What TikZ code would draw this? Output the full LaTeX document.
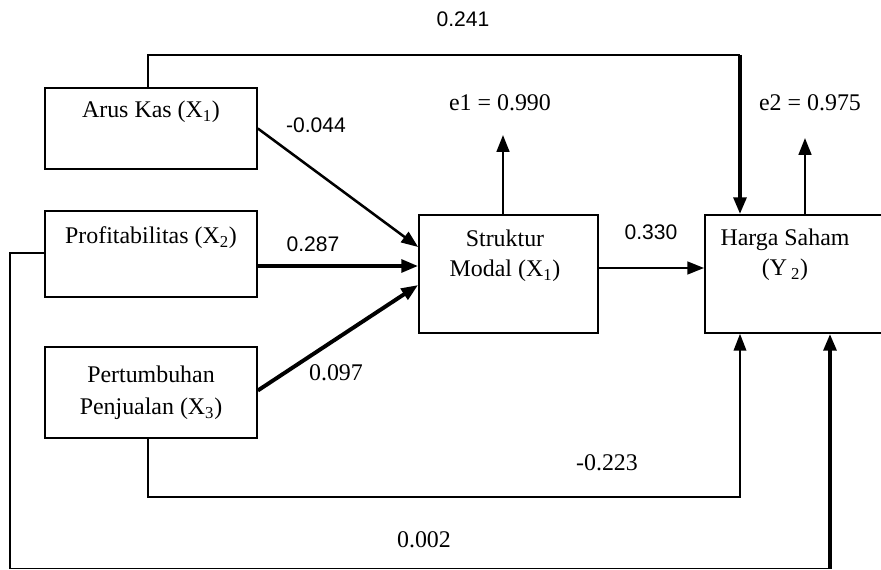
\documentclass[tikz,border=0pt]{standalone}
\usepackage{fontspec}
\setmainfont{Liberation Serif}
\newfontfamily\numfont{Liberation Sans}
\usetikzlibrary{%
    arrows.meta,
    calc,
    positioning
}

\tikzset{
    varbox/.style={draw, line width=1.2pt, rectangle, inner sep=0pt},
    varname/.style={font=\fontsize{17}{20}\selectfont, align=center, inner sep=0pt},
    coef/.style={font=\numfont\fontsize{15}{17}\selectfont, inner sep=0pt},
    coefserif/.style={font=\fontsize{17}{19}\selectfont, inner sep=0pt},
    thinline/.style={line width=1.2pt},
    midarrow/.style={line width=1.8pt, -{Triangle[length=12pt,width=9pt]}},
    thickarrow/.style={line width=2.8pt, -{Triangle[length=12pt,width=9pt]}}
}

\begin{document}
\begin{tikzpicture}[x=0.025cm, y=-0.025cm]
    \useasboundingbox (0,0) rectangle (881,570);

    % boxes
    \node[varbox, minimum width=212*0.025cm, minimum height=81*0.025cm]  (arus)     at (151,128.5) {};
    \node[varbox, minimum width=212*0.025cm, minimum height=86*0.025cm]  (profit)   at (151,254)   {};
    \node[varbox, minimum width=212*0.025cm, minimum height=91*0.025cm]  (tumbuh)   at (151,392.5) {};
    \node[varbox, minimum width=179*0.025cm, minimum height=118*0.025cm] (struktur) at (508.5,274) {};
    \node[varbox, minimum width=180*0.025cm, minimum height=118*0.025cm] (harga)    at (795,274)   {};

    % box texts
    \node[varname] (arusT)     at (151,112) {Arus Kas (X\textsubscript{1})};
    \node[varname] (profitT)   at (151,238) {Profitabilitas (X\textsubscript{2})};
    \node[varname] (tumbuhT)   at (151,393) {Pertumbuhan\\[3pt] Penjualan (X\textsubscript{3})};
    \node[varname] (strukturT) at (505,256) {Struktur\\[1pt] Modal (X\textsubscript{1})};
    \node[varname] (hargaT)    at (785,255) {Harga Saham\\[1pt] (Y\,\textsubscript{2})};

    % corner points
    \coordinate (topc)  at (740,55);
    \coordinate (botc)  at (740,497);
    \coordinate (leftc) at (10,568.5);
    \coordinate (rbotc) at (830,568.5);
    \coordinate (e1c)   at (503,135);
    \coordinate (e2c)   at (805,138);

    % paths to Struktur Modal
    \draw[midarrow]   (arus.east) -- ($(struktur.west)+(0,-27)$);
    \draw[thickarrow] ($(profit.east)+(0,12)$) -- ($(struktur.west)+(0,-8)$);
    \draw[thickarrow] ($(tumbuh.east)+(0,-2)$) -- ($(struktur.west)+(0,11)$);
    \draw[midarrow]   (e1c |- struktur.north) -- (e1c);

    % paths to Harga Saham
    \draw[thinline]   ($(arus.north)+(-3,0)$) |- (topc);
    \draw[thickarrow] (topc) -- (topc |- harga.north);
    \draw[midarrow]   ($(struktur.east)+(0,-6)$) -- ($(harga.west)+(0,-6)$);
    \draw[midarrow]   (e2c |- harga.north) -- (e2c);
    \draw[thinline, -{Triangle[length=12pt,width=9pt]}]
        ($(tumbuh.south)+(-3,0)$) |- (botc) -- (botc |- harga.south);
    \draw[thinline]   ($(profit.west)+(0,-1)$) -| (leftc) -- (rbotc);
    \draw[thickarrow] (rbotc) -- (rbotc |- harga.south);

    % coefficients
    \node[coef]      (c241)  at (463,19)  {0.241};
    \node[coef]      (c044)  at (316,125) {-0.044};
    \node[coef]      (c287)  at (313,244) {0.287};
    \node[coefserif] (c097)  at (336,373) {0.097};
    \node[coef]      (c330)  at (651,232) {0.330};
    \node[coefserif] (c223)  at (607,463) {-0.223};
    \node[coefserif] (c002)  at (424,540) {0.002};
    \node[coefserif] (e1)    at (500,103) {e1 = 0.990};
    \node[coefserif] (e2)    at (810,103) {e2 = 0.975};
\end{tikzpicture}
\end{document}
